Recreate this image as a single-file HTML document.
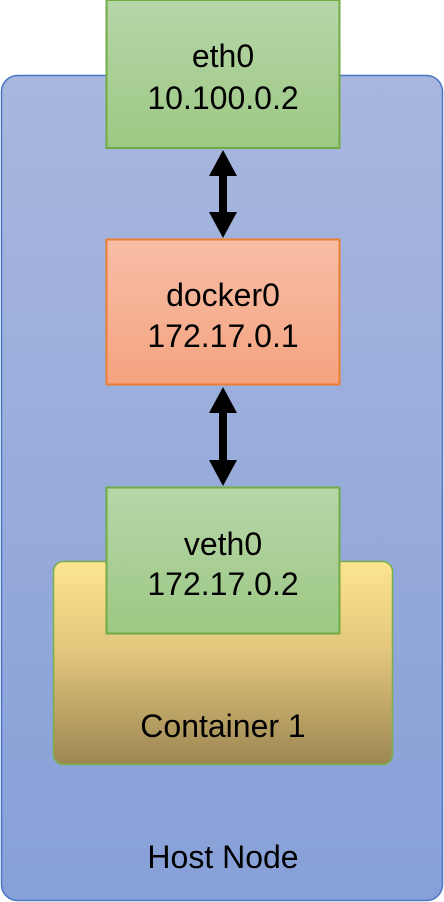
<!DOCTYPE html>
<html><head><meta charset="utf-8"><style>
html,body{margin:0;padding:0;background:#fff;}
svg{display:block}
</style></head><body>
<svg width="444" height="902" viewBox="0 0 444 902" xmlns="http://www.w3.org/2000/svg">
<defs>
<linearGradient id="host" x1="0" y1="0" x2="0" y2="1"><stop offset="0" stop-color="#a8b7de"/><stop offset="1" stop-color="#87a0d8"/></linearGradient>
<linearGradient id="green" x1="0" y1="0" x2="0" y2="1"><stop offset="0" stop-color="#b6d6a8"/><stop offset="1" stop-color="#9dc884"/></linearGradient>
<linearGradient id="orange" x1="0" y1="0" x2="0" y2="1"><stop offset="0" stop-color="#f8bea7"/><stop offset="1" stop-color="#f4a37f"/></linearGradient>
<linearGradient id="cont" x1="0" y1="0" x2="0" y2="1"><stop offset="0" stop-color="#fde590"/><stop offset="0.45" stop-color="#e2c57c"/><stop offset="1" stop-color="#9c8753"/></linearGradient>
</defs>
<rect x="1.5" y="75.5" width="441" height="825" rx="16" fill="url(#host)" stroke="#4a76c6" stroke-width="1.5"/>
<rect x="53.5" y="561.5" width="339" height="203" rx="10" fill="url(#cont)" stroke="#78b04a" stroke-width="1.5"/>
<rect x="106.5" y="0" width="233" height="148" fill="url(#green)" stroke="#72aa44" stroke-width="2"/>
<rect x="106.5" y="239.5" width="233" height="145" fill="url(#orange)" stroke="#ed7d31" stroke-width="2"/>
<rect x="106.5" y="487.5" width="233" height="146" fill="url(#green)" stroke="#72aa44" stroke-width="2"/>
<g fill="#000">
<polygon points="223,150 237,176 227,176 227,212 237,212 223,238 209,212 219,212 219,176 209,176"/>
<polygon points="223,387 237,413 227,413 227,460 237,460 223,486 209,460 219,460 219,413 209,413"/>
</g>
<g font-family="Liberation Sans, sans-serif" font-size="32" fill="#000" text-anchor="middle">
<text x="223" y="67">eth0</text>
<text x="223" y="109">10.100.0.2</text>
<text x="223" y="306">docker0</text>
<text x="223" y="347">172.17.0.1</text>
<text x="223" y="555">veth0</text>
<text x="223" y="595">172.17.0.2</text>
<text x="223" y="737">Container 1</text>
<text x="223" y="868">Host Node</text>
</g>
</svg>
</body></html>
